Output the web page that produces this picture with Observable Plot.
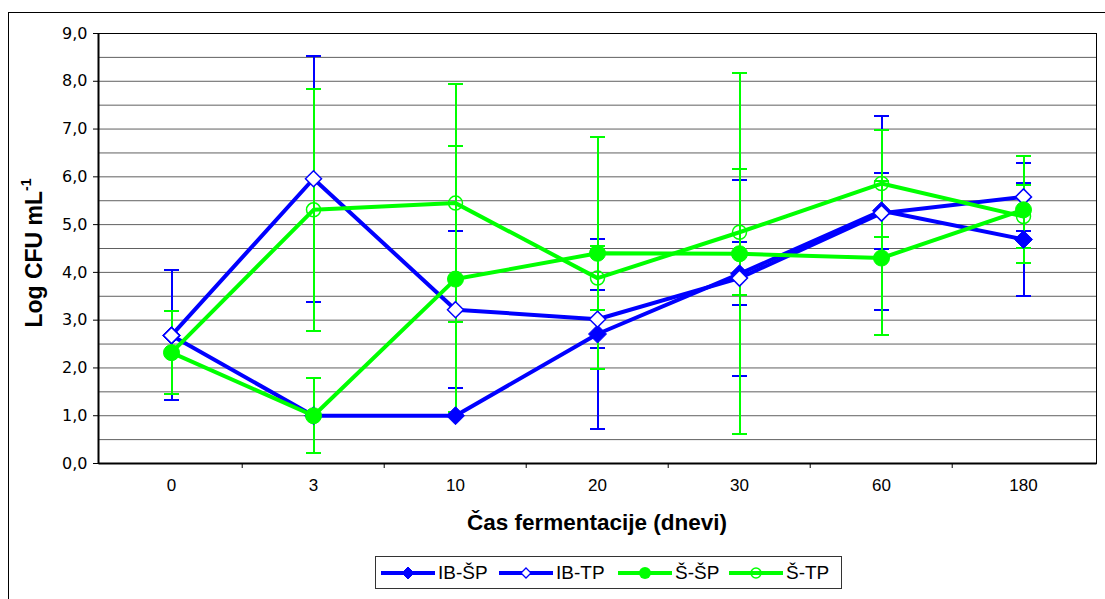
<!DOCTYPE html>
<html>
<head>
<meta charset="utf-8">
<script src="https://cdn.jsdelivr.net/npm/d3@7"></script>
<script src="https://cdn.jsdelivr.net/npm/@observablehq/plot@0.6"></script>
<style>
  html, body { margin: 0; padding: 0; background: #fff; width: 1105px; height: 599px; overflow: hidden; font-family: Arial, "Liberation Sans", sans-serif; }
  #border { position: absolute; left: 8px; top: 12px; width: 1200px; height: 700px; border: 1px solid #000; }
  #chart { position: absolute; left: 0; top: 0; }
  #ylabel { position: absolute; left: 34px; top: 253px; transform: translate(-50%, -50%) rotate(-90deg); font-weight: bold; font-size: 23px; white-space: nowrap; }
  #ylabel sup { font-size: 14px; position: relative; top: -2px; }
  #xlabel { position: absolute; left: 597px; top: 523px; transform: translate(-50%, -50%); font-weight: bold; font-size: 22.5px; white-space: nowrap; }
  #legend { position: absolute; left: 375px; top: 556px; width: 467px; height: 33px; border: 1px solid #333; box-sizing: border-box; }
  .item { position: absolute; top: 0; height: 31px; display: flex; align-items: center; font-size: 19px; }
  .item svg { margin-right: 3px; }
</style>
</head>
<body>
<div id="border"></div>
<div id="chart"></div>
<div id="ylabel">Log CFU mL<sup>-1</sup></div>
<div id="xlabel">Čas fermentacije (dnevi)</div>
<div id="legend"></div>
<script>
// ---- data ----
const days = ["0", "3", "10", "20", "30", "60", "180"];
const seriesNames = ["IB-ŠP", "IB-TP", "Š-ŠP", "Š-TP"];
const ibSpMean = [2.68, 1.00, 1.00, 2.71, 3.97, 5.29, 4.69];
const ibSpErr  = [1.36, 0, 0, 1.99, 0.66, 0.79, 1.19];
const ibTpMean = [2.68, 5.96, 3.22, 3.02, 3.88, 5.24, 5.58];
const ibTpErr  = [1.36, 2.57, 1.64, 0.61, 2.05, 2.03, 0.71];
const sSpMean  = [2.32, 1.00, 3.86, 4.40, 4.39, 4.30, 5.31];
const sSpErr   = [0.87, 0.79, 2.79, 2.43, 3.78, 1.61, 1.12];
const sTpMean  = [2.32, 5.31, 5.45, 3.88, 4.84, 5.86, 5.17];
const sTpErr   = [0.87, 2.53, 2.49, 0.67, 1.32, 1.12, 0.66];
const yTicks = [0, 1, 2, 3, 4, 5, 6, 7, 8, 9];
const yGrid = [0.5, 1, 1.5, 2, 2.5, 3, 3.5, 4, 4.5, 5, 5.5, 6, 6.5, 7, 7.5, 8, 8.5];

const means = [ibSpMean, ibTpMean, sSpMean, sTpMean];
const errs = [ibSpErr, ibTpErr, sSpErr, sTpErr];
const colors = ["#0000ff", "#0000ff", "#00ff00", "#00ff00"];

const series = seriesNames.map((name, k) => days.map((d, i) => ({
  series: name, day: d, mean: means[k][i], err: errs[k][i],
  lo: means[k][i] - errs[k][i], hi: means[k][i] + errs[k][i]
})));

// ---- symbols ----
const capSym = {draw(ctx) { ctx.moveTo(-7.5, 0); ctx.lineTo(7.5, 0); }};
const diamondSym = (h) => ({draw(ctx) { ctx.moveTo(0, -h); ctx.lineTo(h, 0); ctx.lineTo(0, h); ctx.lineTo(-h, 0); ctx.closePath(); }});
const circleSym = (r) => ({draw(ctx) { ctx.moveTo(r, 0); ctx.arc(0, 0, r, 0, 2 * Math.PI); }});

const markerOpts = [
  {symbol: diamondSym(9), fill: "#0000ff", stroke: "#0000ff", strokeWidth: 1},
  {symbol: diamondSym(8), fill: "#fff", stroke: "#0000ff", strokeWidth: 1.5},
  {symbol: circleSym(8), fill: "#00ff00", stroke: "#00ff00", strokeWidth: 1},
  {symbol: circleSym(7), fill: "none", stroke: "#00ff00", strokeWidth: 1.5}
];

const W = 1105, ML = 98, MR = 9, MT = 33, H = 545, MB = 82;
const step = (W - ML - MR) / days.length;
const fmt = d => d.toFixed(1).replace(".", ",");

const marks = [
  Plot.gridY(yGrid, {stroke: "#606060", strokeOpacity: 1}),
  Plot.frame({stroke: "#000"}),
  Plot.frame({fill: "#000", stroke: null, insetLeft: -1, insetRight: (W - ML - MR) - 1}),
  Plot.frame({fill: "#000", stroke: null, insetTop: (H - MT - MB) - 1, insetBottom: -1}),
  Plot.axisY(yTicks, {tickSize: 5, tickFormat: () => "", label: null}),
  Plot.text(yTicks, {y: d => d, text: fmt, frameAnchor: "left", textAnchor: "end", dx: -11, fontSize: 16, fontFamily: "'DejaVu Sans', sans-serif", fill: "#000"}),
  Plot.ruleX(days.slice(1), {dx: -step / 2, insetTop: H - MT - MB, insetBottom: -5, stroke: "#000"}),
  Plot.text(days, {x: d => d, text: d => d, frameAnchor: "bottom", dy: 27, fontSize: 17, fill: "#000"})
];

series.forEach((rows, k) => {
  const c = colors[k];
  const eb = rows.filter(r => r.err > 0);
  marks.push(Plot.ruleX(eb, {x: "day", y1: "lo", y2: "hi", stroke: c, strokeWidth: 2, shapeRendering: "crispEdges"}));
  marks.push(Plot.dot(eb, {x: "day", y: "hi", symbol: capSym, fill: "none", stroke: c, strokeWidth: 2, shapeRendering: "crispEdges"}));
  marks.push(Plot.dot(eb, {x: "day", y: "lo", symbol: capSym, fill: "none", stroke: c, strokeWidth: 2, shapeRendering: "crispEdges"}));
});
series.forEach((rows, k) => {
  marks.push(Plot.line(rows, {x: "day", y: "mean", stroke: colors[k], strokeWidth: 4}));
  marks.push(Plot.dot(rows, {x: "day", y: "mean", ...markerOpts[k]}));
});

const chart = Plot.plot({
  width: W, height: H,
  marginLeft: ML, marginRight: MR, marginTop: MT, marginBottom: MB,
  x: {type: "point", domain: days, padding: 0.5, label: null, axis: null},
  y: {domain: [0, 9], label: null, axis: null},
  style: {fontFamily: "Arial, 'Liberation Sans', sans-serif", fontSize: "15px", color: "#000", background: "transparent", overflow: "visible"},
  marks
});
document.getElementById("chart").appendChild(chart);

// ---- legend ----
const legendMarkers = [
  '<path d="M27,-6 L33,0 L27,6 L21,0 Z" fill="#0000ff" stroke="#0000ff"/>',
  '<path d="M27,-5 L32,0 L27,5 L22,0 Z" fill="#fff" stroke="#0000ff" stroke-width="1.3"/>',
  '<circle cx="27" cy="0" r="6" fill="#00ff00"/>',
  '<circle cx="27" cy="0" r="5" fill="none" stroke="#00ff00" stroke-width="1.5"/>'
];
const legendLeft = [5, 123, 242, 353];
const legend = document.getElementById("legend");
seriesNames.forEach((name, k) => {
  const item = document.createElement("div");
  item.className = "item";
  item.style.left = legendLeft[k] + "px";
  item.innerHTML = `<svg width="54" height="16" viewBox="0 -8 54 16"><line x1="0" x2="54" y1="0" y2="0" stroke="${colors[k]}" stroke-width="4"/>${legendMarkers[k]}</svg><span>${name}</span>`;
  legend.appendChild(item);
});
</script>
</body>
</html>
